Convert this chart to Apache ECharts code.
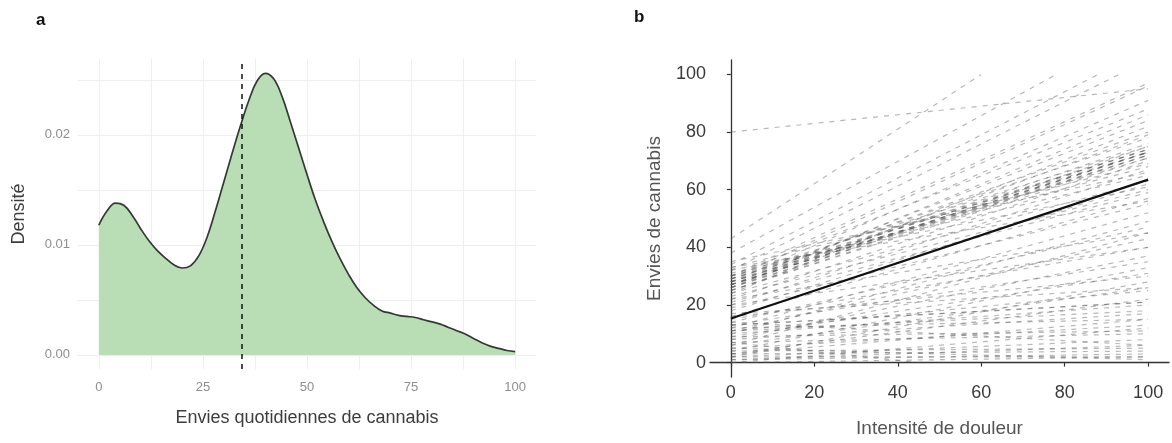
<!DOCTYPE html>
<html>
<head>
<meta charset="utf-8">
<title>Envies de cannabis</title>
<script src="https://cdn.jsdelivr.net/npm/echarts@6/dist/echarts.min.js"></script>
<style>
html, body { margin: 0; padding: 0; background: #fff; }
#main { width: 1172px; height: 443px; }
</style>
</head>
<body>
<div id="main"></div>
<script>
// panneau a : densité des envies quotidiennes
var densX = [0, 2, 4, 6, 8, 10, 12, 14, 16, 18, 20, 22, 24, 26, 28, 30, 32, 34, 36, 38, 40, 42, 44, 46, 48, 50,
    52, 54, 56, 58, 60, 62, 64, 66, 68, 70, 72, 74, 76, 78, 80, 82, 84, 86, 88, 90, 92, 94, 96, 98, 100];
var densY = [0.0118, 0.0131, 0.0138, 0.0136, 0.0127, 0.0115, 0.0104, 0.0095, 0.0088, 0.0082, 0.0079, 0.0081,
    0.0090, 0.0107, 0.0131, 0.0157, 0.0183, 0.0208, 0.0231, 0.0249, 0.0256, 0.0251, 0.0235, 0.0212, 0.0188,
    0.0164, 0.0141, 0.0121, 0.0103, 0.0087, 0.0073, 0.0061, 0.0052, 0.0045, 0.0040, 0.0038, 0.0036, 0.0035,
    0.0034, 0.0032, 0.0030, 0.0028, 0.0025, 0.0022, 0.0019, 0.0015, 0.0011, 0.0008, 0.0006, 0.0004, 0.0003];
var medianCraving = 34.4;
var densXTicks = [0, 25, 50, 75, 100];
var densXGrid = [0, 12.5, 25, 37.5, 50, 62.5, 75, 87.5, 100];
var densYTicks = [0, 0.01, 0.02];
var densYGrid = [0, 0.005, 0.01, 0.015, 0.02, 0.025];

// panneau b : droites individuelles (y à x=0, x de fin, y de fin)
var startY = [80, 43, 38, 34, 32, 30, 29, 28, 30, 26, 27, 24, 28, 26, 29, 27, 25, 28, 27, 26, 29, 27, 25, 28, 22,
    27, 28, 26, 29, 27, 30, 25,
    33, 20, 31, 18, 23, 21, 16, 33, 19, 12, 24, 30, 35, 32,
    10, 14, 6, 11, 20, 8, 13, 4, 9, 16,
    6, 11, 3, 13, 10, 8, 12, 5, 9, 7, 2, 14, 4, 3, 1, 0, 2, 7, 5, 1, 3, 0, 2, 17, 22, 15, 13, 11];
var endX = [100, 60, 78, 88, 93, 100, 100, 100, 100, 100, 100, 100, 100, 100, 100, 100, 100, 100, 100, 100, 100, 100, 100, 100, 100,
    100, 100, 100, 100, 100, 100, 100,
    100, 100, 100, 100, 100, 100, 100, 100, 100, 100, 100, 100, 100, 100,
    100, 100, 100, 100, 100, 100, 100, 100, 100, 100,
    100, 100, 100, 100, 100, 100, 100, 100, 100, 100, 100, 100, 100, 100, 100, 100, 100, 45, 100, 100, 100, 100, 100, 100, 100, 100, 100, 100];
var endY = [95, 100, 100, 100, 100, 97, 96, 91, 88, 86, 84, 82, 80, 79, 78, 76, 75, 74, 73, 73, 73, 72, 72, 71, 70,
    73, 74, 72, 74, 73, 75, 71,
    69, 67, 65, 62, 60, 59, 57, 56, 55, 52, 63, 68, 66, 61,
    49, 47, 45, 43, 40, 37, 35, 33, 31, 30,
    26, 25, 22, 21, 20, 17, 15, 13, 11, 10, 8, 6, 5, 4, 3, 2, 2, 0, 1, 6, 15, 12, 28, 26, 45, 40, 21, 18];
var meanStart = 15.3;
var meanEnd = 63.5;
var painTicks = [0, 20, 40, 60, 80, 100];

var chart_page = {
    chart : null,
    font : 'Liberation Sans, Arial, sans-serif',
    init : function() {
        this.chart = echarts.init(document.getElementById('main'), null, { renderer : 'canvas' });
        this.chart.setOption(this.buildOption());
    },
    densityData : function() {
        var arr = [];
        for (var i = 0; i < densX.length; i++) {
            arr.push([ densX[i], densY[i] ]);
        }
        return arr;
    },
    lineSeries : function() {
        var list = [];
        for (var i = 0; i < startY.length; i++) {
            list.push({
                type : 'line',
                xAxisIndex : 1,
                yAxisIndex : 1,
                data : [ [ 0, startY[i] ], [ endX[i], endY[i] ] ],
                showSymbol : false,
                silent : true,
                lineStyle : {
                    color : 'rgba(85,85,85,0.42)',
                    width : 1.2,
                    type : [ 5, 6 ]
                },
                z : 2
            });
        }
        // droite moyenne
        list.push({
            type : 'line',
            xAxisIndex : 1,
            yAxisIndex : 1,
            data : [ [ 0, meanStart ], [ 100, meanEnd ] ],
            showSymbol : false,
            silent : true,
            lineStyle : { color : '#111', width : 2.2 },
            z : 5
        });
        return list;
    },
    buildOption : function() {
        var f = this.font;
        var series = [ {
            type : 'line',
            xAxisIndex : 0,
            yAxisIndex : 0,
            data : this.densityData(),
            smooth : 0.4,
            showSymbol : false,
            silent : true,
            lineStyle : { color : '#333a33', width : 1.7 },
            areaStyle : { color : '#b9ddb4', opacity : 1 },
            markLine : {
                symbol : 'none',
                silent : true,
                label : { show : false },
                lineStyle : { color : '#111', width : 1.5, type : [ 5, 5 ] },
                data : [ { xAxis : medianCraving } ]
            },
            z : 3
        } ];
        series = series.concat(this.lineSeries());

        return {
            animation : false,
            backgroundColor : '#fff',
            textStyle : { fontFamily : f },
            graphic : [ {
                type : 'text', left : 36, top : 12,
                style : { text : 'a', font : 'bold 17px ' + f, fill : '#111' }
            }, {
                type : 'text', left : 634, top : 9,
                style : { text : 'b', font : 'bold 17px ' + f, fill : '#111' }
            } ],
            grid : [ {
                left : 78, top : 59, width : 458, height : 310
            }, {
                left : 710, top : 60, width : 459, height : 317
            } ],
            xAxis : [ {
                gridIndex : 0,
                type : 'value',
                min : -5,
                max : 105,
                name : 'Envies quotidiennes de cannabis',
                nameLocation : 'middle',
                nameGap : 40,
                nameTextStyle : { color : '#3d3d3d', fontSize : 18, fontFamily : f },
                axisLine : { show : false },
                axisTick : { show : false, customValues : densXGrid },
                axisLabel : {
                    customValues : densXTicks,
                    color : '#8e8e8e', fontSize : 13, margin : 12, fontFamily : f
                },
                splitLine : { show : true, lineStyle : { color : '#eeeeee', width : 1 } }
            }, {
                gridIndex : 1,
                type : 'value',
                min : -5,
                max : 105,
                name : 'Intensité de douleur',
                nameLocation : 'middle',
                nameGap : 42,
                nameTextStyle : { color : '#555', fontSize : 19, fontFamily : f },
                axisLine : { show : true, lineStyle : { color : '#333', width : 1.3 } },
                axisTick : { show : true, length : 4, customValues : painTicks, lineStyle : { color : '#333', width : 1.2 } },
                axisLabel : {
                    customValues : painTicks,
                    color : '#3a3a3a', fontSize : 18, margin : 7, fontFamily : f
                },
                splitLine : { show : false }
            } ],
            yAxis : [ {
                gridIndex : 0,
                type : 'value',
                min : -0.00128,
                max : 0.0269,
                name : 'Densité',
                nameLocation : 'middle',
                nameGap : 50,
                nameTextStyle : { color : '#3d3d3d', fontSize : 18, fontFamily : f },
                axisLine : { show : false },
                axisTick : { show : false, customValues : densYGrid },
                axisLabel : {
                    customValues : densYTicks,
                    color : '#8e8e8e', fontSize : 13, margin : 8, fontFamily : f,
                    formatter : function(v) { return v.toFixed(2); }
                },
                splitLine : { show : true, lineStyle : { color : '#eeeeee', width : 1 } }
            }, {
                gridIndex : 1,
                type : 'value',
                min : -5,
                max : 105,
                name : 'Envies de cannabis',
                nameLocation : 'middle',
                nameGap : 46,
                nameTextStyle : { color : '#555', fontSize : 19, fontFamily : f },
                axisLine : { show : true, lineStyle : { color : '#333', width : 1.3 } },
                axisTick : { show : true, length : 4, customValues : painTicks, lineStyle : { color : '#333', width : 1.2 } },
                axisLabel : {
                    customValues : painTicks,
                    color : '#3a3a3a', fontSize : 18, margin : 4, fontFamily : f
                },
                splitLine : { show : false }
            } ],
            series : series
        };
    }
};

chart_page.init();
</script>
</body>
</html>
